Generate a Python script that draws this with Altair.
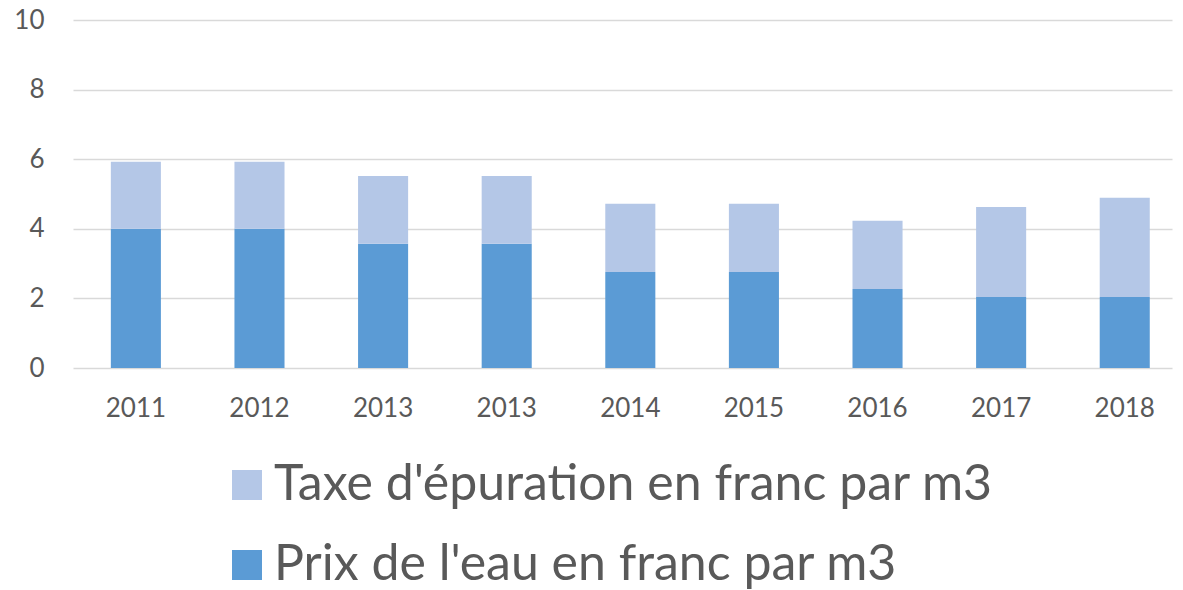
import altair as alt
import pandas as pd

years = ["2011", "2012", "2013", "2013", "2014", "2015", "2016", "2017", "2018"]
prix = [4.0, 4.0, 3.57, 3.57, 2.76, 2.76, 2.27, 2.04, 2.04]
taxe = [1.93, 1.93, 1.95, 1.95, 1.96, 1.96, 1.96, 2.59, 2.85]
series = ["Taxe d'épuration en franc par m3", "Prix de l'eau en franc par m3"]
colors = ["#B4C7E7", "#5B9BD5"]

rows = []
for i, y in enumerate(years):
    rows.append({"idx": i, "year": y, "serie": series[1], "value": prix[i], "ord": 0})
    rows.append({"idx": i, "year": y, "serie": series[0], "value": taxe[i], "ord": 1})
df = pd.DataFrame(rows)

label_expr = "[" + ",".join(f"'{y}'" for y in years) + "][datum.value]"

font = "Lato"
grey = "#595959"

chart = alt.Chart(df).mark_bar().encode(
    x=alt.X("idx:O", title=None,
            scale=alt.Scale(paddingInner=0.595, paddingOuter=0.243, align=0.63),
            axis=alt.Axis(labelExpr=label_expr, labelAngle=0, domain=False, ticks=False,
                          labelFont=font, labelFontSize=26, labelColor=grey,
                          labelPadding=27, grid=False)),
    y=alt.Y("value:Q", title=None, stack="zero",
            scale=alt.Scale(domain=[0, 10], nice=False),
            axis=alt.Axis(values=[0, 2, 4, 6, 8, 10], domain=False, ticks=False,
                          labelFont=font, labelFontSize=26, labelColor=grey,
                          labelPadding=29, gridColor="#D9D9D9", gridWidth=1.5)),
    color=alt.Color("serie:N", title=None,
                    scale=alt.Scale(domain=series, range=colors),
                    legend=alt.Legend(orient="none", legendX=149, legendY=440,
                                      symbolType="square", symbolSize=900,
                                      symbolStrokeWidth=0, symbolOpacity=1,
                                      labelFont=font, labelFontSize=50, labelColor=grey,
                                      labelLimit=1000, rowPadding=30, padding=0,
                                      labelOffset=2, direction="vertical")),
    order=alt.Order("ord:Q", sort="ascending"),
).properties(
    width=1099, height=348,
    autosize=alt.AutoSizeParams(type="none"),
    padding={"left": 73, "top": 20, "right": 11, "bottom": 222},
).configure(background="white").configure_view(stroke=None, strokeWidth=0)

chart.save("out.html", embed_options={"renderer": "svg", "actions": False})
